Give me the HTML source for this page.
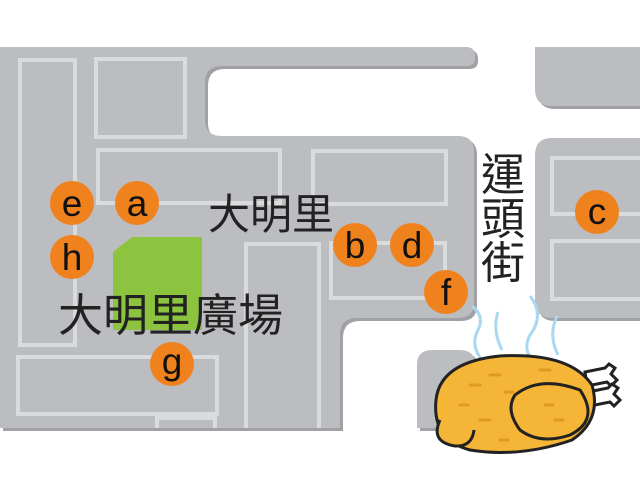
<!DOCTYPE html>
<html><head><meta charset="utf-8"><style>
body{margin:0;width:640px;height:485px;background:#fff;overflow:hidden;position:relative;font-family:"Liberation Sans","Noto Sans CJK TC",sans-serif}
</style></head><body>
<svg width="640" height="485" viewBox="0 0 640 485" style="position:absolute;left:0;top:0">
<defs><filter id="s"><feDropShadow dx="3" dy="3" stdDeviation="0" flood-color="#a0a1a4"/></filter></defs>
<g fill="#bcbdc0" filter="url(#s)">
<path d="M0 47 H466 Q475 47 475 56 V58 Q475 66 466 66 H222 Q205 66 205 83 V120 Q205 136 222 136 H458 Q474 136 474 152 V302 Q474 318 458 318 H357 Q340 318 340 335 V428 H0 Z"/>
<path d="M535 47 H640 V106 H552 Q535 106 535 89 Z"/>
<path d="M552 138 H640 V318 H552 Q535 318 535 301 V155 Q535 138 552 138 Z"/>
<path d="M432 350 H460 Q475 350 475 365 V428 H417 V365 Q417 350 432 350 Z"/>
</g>
<g fill="none" stroke="#dadbdc" stroke-width="4">
<rect x="20" y="60" width="55" height="285"/>
<rect x="96" y="59" width="89" height="78"/>
<rect x="98" y="150" width="182" height="53"/>
<rect x="313" y="151" width="133" height="53"/>
<path d="M246 428 V244 H319 V428"/>
<rect x="331" y="243" width="114" height="55"/>
<rect x="18" y="357" width="199" height="57"/>
<path d="M157 428 V418 H215 V428"/>
<path d="M640 158 H552 V214 H640 M640 241 H552 V299 H640"/>
</g>
<path d="M132 237 H202 V330 H113 V252 Z" fill="#8cc43f"/>
<g fill="#f0821e">
<circle cx="72" cy="203" r="22"/><circle cx="137" cy="203" r="22"/><circle cx="72" cy="257" r="22"/>
<circle cx="355" cy="245" r="22"/><circle cx="412" cy="245" r="22"/><circle cx="446" cy="292" r="22"/>
<circle cx="172" cy="364" r="22"/><circle cx="597" cy="212" r="22"/>
</g>
<g font-family="Liberation Sans, sans-serif" font-size="37" text-anchor="middle" fill="#111">
<text x="72" y="216">e</text><text x="137" y="216">a</text><text x="72" y="270">h</text>
<text x="355" y="258">b</text><text x="412" y="258">d</text><text x="446" y="305">f</text>
<text x="172" y="374">g</text><text x="597" y="224">c</text>
</g>
<g font-family="Liberation Sans, Noto Sans CJK TC, sans-serif" fill="#222">
<text x="208" y="229" font-size="42">大明里</text>
<text x="58" y="331" font-size="45">大明里廣場</text>
<text x="481" y="190" font-size="44">運</text>
<text x="481" y="234" font-size="44">頭</text>
<text x="481" y="278" font-size="44">街</text>
</g>
<g fill="none" stroke="#a9d8f0" stroke-width="3">
<path d="M472 306 Q485 316 478 330 Q470 345 482 360"/>
<path d="M498 312 Q492 330 502 350"/>
<path d="M530 296 Q545 315 530 335 Q522 350 534 362"/>
<path d="M557 316 Q548 335 558 355"/>
</g>
<g stroke="#222" stroke-width="3">
<path d="M585 372 l20 -4 l4 -4 l6 4 l-4 6 l6 6 l-6 6 l-4 -4 l-20 4 Z" fill="#fff"/>
<path d="M588 392 l20 -4 l4 -4 l6 4 l-4 6 l6 6 l-6 6 l-4 -4 l-20 4 Z" fill="#fff"/>
<path d="M436 400 Q440 362 500 356 Q570 352 592 385 Q602 420 572 440 Q520 458 470 450 Q432 440 436 400 Z" fill="#f5b638"/>
<path d="M440 420 Q430 442 455 446 Q472 447 474 430" fill="#f5b638"/>
<path d="M515 395 Q540 375 580 390 Q600 420 570 435 Q540 445 520 430 Q505 410 515 395 Z" fill="#f5b638"/>
</g>
<g stroke="#e09a20" stroke-width="3" stroke-linecap="round">
<path d="M470 385 h10 M490 375 h10 M505 392 h8 M460 405 h8 M540 370 h10 M480 420 h10 M545 405 h8 M555 420 h8 M500 440 h8"/>
</g>
</svg>
</body></html>
